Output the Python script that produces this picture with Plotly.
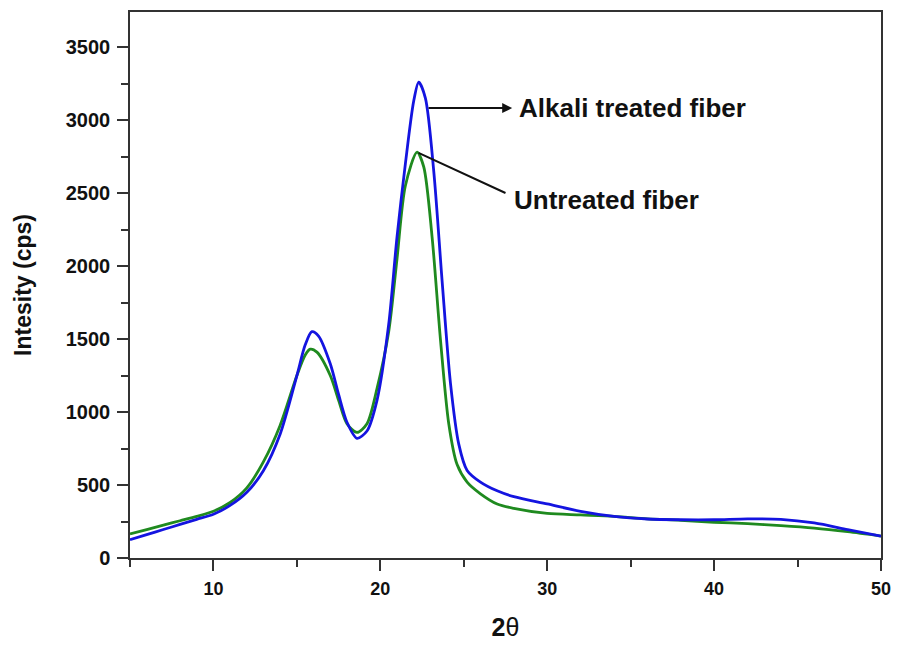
import plotly.graph_objects as go

# Alkali treated fiber (blue)
x_alkali = [5, 6, 7, 8, 9, 10, 11, 12, 13, 14, 15, 15.5, 15.9, 16.3, 17, 17.5, 18, 18.6, 19.2, 19.8,
            20.5, 21, 21.5, 22, 22.3, 22.7, 23.2, 23.7, 24.2, 24.7, 25.2, 26, 27, 28, 30, 32, 34, 36,
            38, 40, 42, 44, 46, 48, 50]
y_alkali = [125, 160, 195, 230, 265, 300, 360, 450, 600, 850, 1250, 1460, 1550, 1520, 1330, 1120, 930,
            820, 870, 1080, 1600, 2200, 2700, 3130, 3260, 3150, 2650, 1900, 1200, 780, 600, 520, 460,
            420, 370, 320, 285, 267, 262, 262, 268, 265, 240, 195, 150]

# Untreated fiber (green)
x_untreated = [5, 6, 7, 8, 9, 10, 11, 12, 13, 14, 15, 15.5, 15.8, 16.2, 17, 17.5, 18, 18.6, 19.2, 19.8,
               20.5, 21, 21.5, 22.2, 22.6, 23.1, 23.6, 24.1, 24.6, 25.2, 26, 27, 28, 30, 32, 34, 36,
               38, 40, 42, 44, 46, 48, 50]
y_untreated = [165, 195, 225, 255, 285, 320, 380, 480, 660, 910, 1250, 1390, 1430, 1410, 1250, 1080, 920,
               860, 920, 1160, 1550, 2050, 2550, 2780, 2680, 2200, 1500, 920, 640, 520, 440, 370, 340,
               305, 295, 285, 268, 258, 245, 235, 222, 205, 180, 150]

x_ticks = [10, 20, 30, 40, 50]
y_ticks = [0, 500, 1000, 1500, 2000, 2500, 3000, 3500]

fig = go.Figure()
fig.add_trace(go.Scatter(x=x_untreated, y=y_untreated, mode="lines",
                         line=dict(color="#1f8a1f", width=2.8, shape="spline", smoothing=0.8),
                         name="Untreated fiber", showlegend=False))
fig.add_trace(go.Scatter(x=x_alkali, y=y_alkali, mode="lines",
                         line=dict(color="#1414e0", width=2.8, shape="spline", smoothing=0.8),
                         name="Alkali treated fiber", showlegend=False))

font_b = dict(family="Arial, Liberation Sans", color="#111111")

# Alkali arrow
fig.add_annotation(x=27.9, y=3082, ax=22.8, ay=3082, xref="x", yref="y", axref="x", ayref="y",
                   text="", showarrow=True, arrowhead=2, arrowsize=1, arrowwidth=2, arrowcolor="#111111")
fig.add_annotation(x=28.2, y=3082, xref="x", yref="y", text="<b>Alkali treated fiber</b>",
                   showarrow=False, xanchor="left", yanchor="middle", font=dict(size=26, **font_b))
# Untreated line
fig.add_annotation(x=27.5, y=2500, ax=22.2, ay=2780, xref="x", yref="y", axref="x", ayref="y",
                   text="", showarrow=True, arrowhead=0, arrowwidth=2, arrowcolor="#111111")
fig.add_annotation(x=27.9, y=2452, xref="x", yref="y", text="<b>Untreated fiber</b>",
                   showarrow=False, xanchor="left", yanchor="middle", font=dict(size=26, **font_b))

axis_common = dict(showline=True, linecolor="#333333", linewidth=1.5, mirror=True, showgrid=False,
                   zeroline=False, ticks="outside", ticklen=11, tickwidth=1.5, tickcolor="#333333",
                   automargin=False)

fig.update_xaxes(range=[5, 50], tickvals=x_ticks, ticktext=[f"<b>{v}</b>" for v in x_ticks],
                 tickfont=dict(size=18, **font_b), ticklabelstandoff=3,
                 minor=dict(dtick=5, ticks="outside", ticklen=7, tickwidth=1.5, tickcolor="#333333"),
                 title=dict(text="<b>2</b>θ", font=dict(size=25, **font_b), standoff=20),
                 **axis_common)
fig.update_yaxes(range=[0, 3740], tickvals=y_ticks, ticktext=[f"<b>{v}</b>" for v in y_ticks],
                 tickfont=dict(size=20, **font_b), ticklabelstandoff=3,
                 minor=dict(dtick=250, ticks="outside", ticklen=7, tickwidth=1.5, tickcolor="#333333"),
                 title=dict(text="<b>Intesity (cps)</b>", font=dict(size=23, **font_b), standoff=28),
                 **axis_common)

fig.update_layout(width=899, height=646, margin=dict(l=130, r=18, t=12, b=88),
                  plot_bgcolor="white", paper_bgcolor="white")

fig.write_html("out.html")
